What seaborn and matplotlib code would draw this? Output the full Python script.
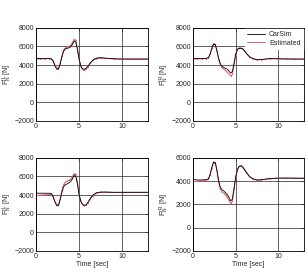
import numpy as np
import pandas as pd
import seaborn as sns
import matplotlib
matplotlib.use('Agg')
import matplotlib.pyplot as plt

# time samples [sec]
t = [0, 0.02, 0.5, 1.0, 1.5, 1.8, 2.0, 2.2, 2.4, 2.6, 2.8, 3.0, 3.2, 3.4, 3.6, 3.8,
     4.0, 4.2, 4.4, 4.6, 4.8, 5.0, 5.2, 5.4, 5.6, 5.8, 6.0, 6.3, 6.6, 7.0, 7.5, 8.0,
     9.0, 10.0, 11.0, 12.0, 13.0]

# front left
fl_carsim = [-2000, 4700, 4700, 4700, 4720, 4650, 4400, 3900, 3550, 3550, 4100, 4900, 5500, 5750, 5800, 5850,
             5950, 6200, 6550, 6500, 5700, 4600, 3900, 3600, 3550, 3650, 3850, 4250, 4550, 4750, 4800, 4750,
             4680, 4650, 4650, 4650, 4650]
fl_est = [-2000, 4650, 4650, 4680, 4700, 4650, 4450, 4000, 3700, 3700, 4200, 5000, 5600, 5850, 5950, 6000,
          6100, 6400, 6750, 6700, 5800, 4600, 3800, 3500, 3450, 3550, 3800, 4200, 4500, 4700, 4750, 4720,
          4660, 4640, 4640, 4640, 4640]

# front right
fr_carsim = [-2000, 4700, 4700, 4700, 4720, 4800, 5200, 5800, 6250, 6200, 5500, 4700, 4100, 3850, 3750, 3650,
             3550, 3350, 3150, 3300, 4200, 5200, 5700, 5800, 5800, 5750, 5550, 5200, 4900, 4700, 4580, 4600,
             4700, 4680, 4660, 4650, 4650]
fr_est = [-2000, 4650, 4660, 4680, 4700, 4780, 5200, 5850, 6300, 6250, 5500, 4600, 4000, 3700, 3550, 3400,
          3250, 3050, 2850, 3000, 4000, 5100, 5700, 5850, 5850, 5750, 5550, 5200, 4900, 4680, 4570, 4600,
          4690, 4670, 4650, 4640, 4640]

# rear left
rl_carsim = [-2000, 4200, 4200, 4200, 4200, 4150, 3800, 3250, 2850, 2850, 3500, 4300, 4900, 5100, 5200, 5300,
             5450, 5700, 6100, 6050, 5200, 4000, 3300, 3000, 2900, 2950, 3200, 3650, 4000, 4250, 4330, 4330,
             4300, 4300, 4300, 4300, 4300]
rl_est = [-2000, 3950, 4000, 4030, 4080, 4050, 3750, 3300, 3000, 3000, 3600, 4500, 5150, 5400, 5500, 5600,
          5700, 5950, 6300, 6250, 5400, 4100, 3300, 2950, 2850, 2900, 3150, 3600, 3950, 4200, 4280, 4290,
          4280, 4280, 4290, 4290, 4290]

# rear right
rr_carsim = [-2000, 4150, 4100, 4100, 4120, 4200, 4600, 5200, 5650, 5600, 4900, 4000, 3450, 3250, 3150, 3000,
             2850, 2600, 2300, 2450, 3400, 4400, 5000, 5250, 5300, 5200, 5000, 4700, 4400, 4200, 4100, 4120,
             4220, 4260, 4260, 4250, 4250]
rr_est = [-2000, 3950, 4000, 4020, 4050, 4150, 4550, 5150, 5600, 5550, 4850, 3900, 3300, 3050, 2950, 2800,
          2600, 2350, 2100, 2250, 3300, 4350, 5000, 5300, 5350, 5250, 5050, 4700, 4400, 4180, 4080, 4110,
          4210, 4250, 4260, 4250, 4240]

labels = [r'$F^{fL}_{N}$ [N]', r'$F^{fR}_{N}$ [N]', r'$F^{rL}_{N}$ [N]', r'$F^{rR}_{N}$ [N]']
ylims = [(-2000, 8000), (-2000, 8000), (-2000, 8000), (-2000, 6000)]

sns.set_style('white')
plt.rcParams['font.family'] = ['Liberation Sans', 'DejaVu Sans']
plt.rcParams['mathtext.fontset'] = 'custom'
plt.rcParams['mathtext.rm'] = 'Liberation Sans'
plt.rcParams['mathtext.it'] = 'Liberation Sans'

fig = plt.figure(figsize=(3.08, 2.76), dpi=100)
positions = [[0.117, 0.562, 0.364, 0.337], [0.627, 0.562, 0.36, 0.337],
             [0.117, 0.091, 0.364, 0.337], [0.627, 0.091, 0.36, 0.337]]
series = [(fl_carsim, fl_est), (fr_carsim, fr_est), (rl_carsim, rl_est), (rr_carsim, rr_est)]

for i, (pos, (cs, est)) in enumerate(zip(positions, series)):
    ax = fig.add_axes(pos)
    df = pd.DataFrame({'t': t, 'CarSim': cs, 'Estimated': est})
    sns.lineplot(data=df, x='t', y='CarSim', ax=ax, color='black', lw=0.6,
                 sort=False, estimator=None, zorder=3, label='CarSim')
    sns.lineplot(data=df, x='t', y='Estimated', ax=ax, color='#e4606c', lw=0.7,
                 marker='.', markersize=1.8, markeredgewidth=0, sort=False,
                 estimator=None, zorder=2, label='Estimated')
    ax.set_xlim(0, 13)
    ax.set_ylim(*ylims[i])
    ax.set_xticks([0, 5, 10])
    ax.set_yticks(np.arange(ylims[i][0], ylims[i][1] + 1, 2000))
    ax.grid(True, color='#222222', lw=0.5)
    ax.tick_params(labelsize=5, direction='in', length=2, width=0.5, pad=1.5,
                   top=True, right=True)
    for s in ax.spines.values():
        s.set_color('black')
        s.set_linewidth(0.6)
    ax.set_ylabel(labels[i], fontsize=5)
    ax.yaxis.set_label_coords(-0.195, 0.5)
    if i >= 2:
        ax.set_xlabel('Time [sec]', fontsize=5, labelpad=1)
    else:
        ax.set_xlabel('')
    if i == 1:
        leg = ax.legend(loc='upper right', fontsize=5, frameon=True, fancybox=False,
                        borderpad=0.3, handlelength=2.6, handletextpad=0.6,
                        labelspacing=0.2, borderaxespad=0.2)
        leg.get_frame().set_edgecolor('white')
        leg.get_frame().set_alpha(1)
    else:
        ax.get_legend().remove()

fig.savefig('out.png', dpi=100)
